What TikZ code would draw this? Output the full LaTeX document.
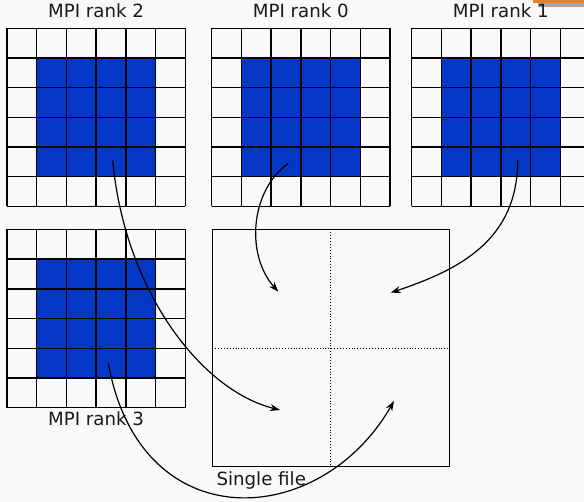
\documentclass[tikz,border=0pt]{standalone}
\usepackage{fontspec}
\setmainfont{DejaVu Sans}
\usetikzlibrary{positioning,arrows.meta}

\definecolor{bgcol}{RGB}{249,249,249}
\definecolor{mpiblue}{RGB}{4,56,196}
\definecolor{tabcol}{RGB}{232,128,40}

\tikzset{
  rankbox/.style={minimum size=178.2pt,inner sep=0pt,outer sep=0pt},
  cellgrid/.style={line width=1.4pt,draw=black},
  ranklabel/.style={inner sep=0pt,text=black!90,font=\fontsize{18.2}{22}\selectfont},
  flow/.style={line width=1.2pt,-{Stealth[length=10pt,width=7pt]}},
}

\begin{document}
\begin{tikzpicture}[x=1pt,y=1pt]
  \path[use as bounding box,fill=bgcol] (0,0) rectangle (584,502);
  % 右上角
  \fill[tabcol] (533,498.7) rectangle (584,502);
  \fill[black!35] (538,495) rectangle (584,498.7);

  %% ranks
  \node[rankbox] (r2) at (96.1,384.6) {};
  \node[rankbox] (r0) at (300.8,384.6) {};
  \node[rankbox] (r1) at (500.8,384.6) {};
  \node[rankbox] (r3) at (96.1,183.4) {};

  \fill[mpiblue,shift={(r2.south west)}] (29.7,29.7) rectangle (148.5,148.5);
  \draw[cellgrid,shift={(r2.south west)}] (0,0) grid[step=29.7pt] (178.3,178.3);
  \fill[mpiblue,shift={(r0.south west)}] (29.7,29.7) rectangle (148.5,148.5);
  \draw[cellgrid,shift={(r0.south west)}] (0,0) grid[step=29.7pt] (178.3,178.3);
  \fill[mpiblue,shift={(r1.south west)}] (29.7,29.7) rectangle (148.5,148.5);
  \draw[cellgrid,shift={(r1.south west)}] (0,0) grid[step=29.7pt] (178.3,178.3);
  \fill[mpiblue,shift={(r3.south west)}] (29.7,29.7) rectangle (148.5,148.5);
  \draw[cellgrid,shift={(r3.south west)}] (0,0) grid[step=29.7pt] (178.3,178.3);

  \node[ranklabel,above=10pt of r2] (l2) {MPI rank 2};
  \node[ranklabel,above=10pt of r0] (l0) {MPI rank 0};
  \node[ranklabel,above=10pt of r1] (l1) {MPI rank 1};
  \node[ranklabel,below=4pt of r3] (l3) {MPI rank 3};

  %% single file
  \node[draw,line width=1.2pt,minimum size=237pt,inner sep=0pt,outer sep=0pt] (file) at (330.8,154) {};
  \draw[dotted,line width=0.9pt] (file.north) -- (file.south);
  \draw[dotted,line width=0.9pt] (file.west) -- (file.east);
  \node[ranklabel,below right=5pt and 4pt of file.south west] (lf) {Single file};

  % 起点
  \coordinate[above right=-46pt and -12.5pt of r0.center] (s0);
  \coordinate[above right=-42.6pt and 16.9pt of r1.center] (s1);
  \coordinate[above right=-43.3pt and 16.6pt of r2.center] (s2);
  \coordinate[above right=-44.7pt and 12.2pt of r3.center] (s3);
  % 终点
  \coordinate[above right=56.3pt and -52.5pt of file.center] (q0); % 左上
  \coordinate[above right=55.3pt and 59.9pt of file.center] (q1); % 右上
  \coordinate[above right=-62pt and -50.8pt of file.center] (q2); % 左下
  \coordinate[above right=-53pt and 63.2pt of file.center] (q3); % 右下

  \draw[flow] (s0) .. controls +(-38,-27) and +(-33,37) .. (q0);
  \draw[flow] (s1) .. controls +(0,-80) and +(69,23) .. (q1);
  \draw[flow] (s2) .. controls +(12,-129) and +(-80,20) .. (q2);
  \draw[flow] (s3) .. controls +(32,-177) and +(-74,-129) .. (q3);
\end{tikzpicture}
\end{document}
